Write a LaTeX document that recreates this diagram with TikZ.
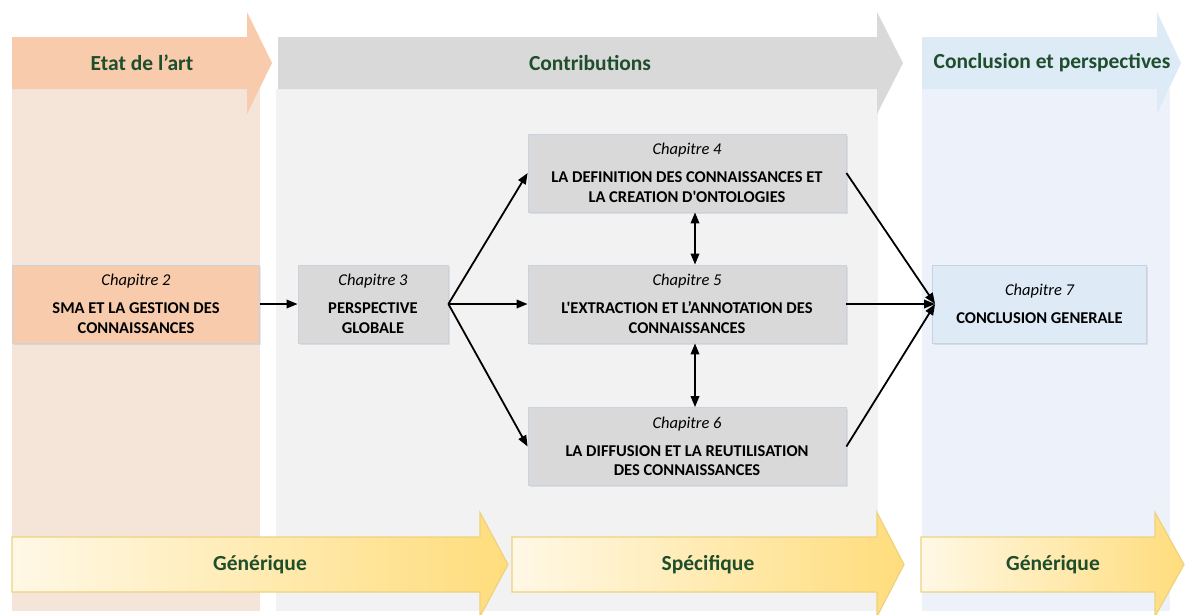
\documentclass[tikz,border=0pt]{standalone}
\usepackage{fontspec}
\setmainfont{Carlito}[Ligatures=TeXOff]
\usetikzlibrary{arrows.meta,shadows}
\definecolor{hdrtext}{HTML}{1F4E2C}
\definecolor{peachA}{HTML}{F8CBAD}
\definecolor{peachBg}{HTML}{F5E5D8}
\definecolor{greyA}{HTML}{D9D9D9}
\definecolor{greyBg}{HTML}{F2F2F2}
\definecolor{blueA}{HTML}{DDEBF7}
\definecolor{blueBg}{HTML}{EDF2FA}
\definecolor{blueBox}{HTML}{DEEAF6}
\definecolor{yelL}{HTML}{FFF8E6}
\definecolor{yelR}{HTML}{FFDD7C}
\definecolor{yelEdge}{HTML}{EFD27E}
\definecolor{boxEdge}{HTML}{C9D3DF}
\newcommand{\myarrowpath}[6]{% x0, xhead, xtip, ymid, body half, head half
  ({#1},{#4-#5}) -- ({#2},{#4-#5}) -- ({#2},{#4-#6}) -- ({#3},{#4}) --
  ({#2},{#4+#6}) -- ({#2},{#4+#5}) -- ({#1},{#4+#5}) -- cycle}
\tikzset{
  hdr/.style={text=hdrtext, font=\fontsize{21.5}{24}\selectfont\bfseries, inner sep=0pt},
  chbox/.style={rectangle, draw=boxEdge, line width=0.8pt, inner sep=0pt,
    minimum height=78pt, align=center, text=black,
    font=\fontsize{16.5}{19.5}\selectfont\bfseries,
    drop shadow={opacity=0.18, shadow xshift=1.5pt, shadow yshift=-1.5pt}},
  conn/.style={line width=1.8pt, -{Triangle[length=11pt,width=8.5pt]}},
  dconn/.style={line width=1.8pt, {Triangle[length=11pt,width=8.5pt]}-{Triangle[length=11pt,width=8.5pt]}},
  yarrow/.style={left color=yelL, right color=yelR, draw=yelEdge, line width=1.2pt}
}
\begin{document}
\begin{tikzpicture}[x=1pt,y=-1pt]
\useasboundingbox (0,0) rectangle (1186,614);
\fill[white] (0,0) rectangle (1186,614);
% column backgrounds
\fill[peachBg] (12,89) rectangle (260,611);
\fill[greyBg] (276,89) rectangle (878,611);
\fill[blueBg] (922,89) rectangle (1170,611);
% top arrows
\fill[peachA] \myarrowpath{12}{247}{272}{63}{26}{51};
\fill[greyA] \myarrowpath{278}{877}{903}{63}{26}{51};
\fill[blueA] \myarrowpath{922}{1157}{1181}{63}{26}{51};
\node[hdr] (h1) at (142,63) {Etat de l’art};
\node[hdr] (h2) at (590,63) {Contributions};
\node[hdr] (h3) at (1052,63) {Conclusion et perspectives};
% bottom arrows
\path[yarrow] \myarrowpath{12}{480}{508}{564.5}{27.5}{52};
\path[yarrow] \myarrowpath{512}{877}{904}{564.5}{27.5}{52};
\path[yarrow] \myarrowpath{921}{1155}{1184}{564.5}{27.5}{52};
\node[hdr] (b1) at (260,564.5) {Générique};
\node[hdr] (b2) at (708,564.5) {Spécifique};
\node[hdr] (b3) at (1053,564.5) {Générique};
% chapter boxes
\node[chbox, fill=peachA, minimum width=247pt] (ch2) at (136,304)
  {{\normalfont\itshape Chapitre 2}\\[8.5pt]SMA ET LA GESTION DES\\CONNAISSANCES};
\node[chbox, fill=greyA, minimum width=150pt] (ch3) at (373,304)
  {{\normalfont\itshape Chapitre 3}\\[8.5pt]PERSPECTIVE\\GLOBALE};
\node[chbox, fill=greyA, minimum width=318pt] (ch4) at (687,173)
  {{\normalfont\itshape Chapitre 4}\\[8.5pt]LA DEFINITION DES CONNAISSANCES ET\\LA CREATION D'ONTOLOGIES};
\node[chbox, fill=greyA, minimum width=318pt] (ch5) at (687,304)
  {{\normalfont\itshape Chapitre 5}\\[8.5pt]L'EXTRACTION ET L’ANNOTATION DES\\CONNAISSANCES};
\node[chbox, fill=greyA, minimum width=318pt] (ch6) at (687,446.5)
  {{\normalfont\itshape Chapitre 6}\\[8.5pt]LA DIFFUSION ET LA REUTILISATION\\DES CONNAISSANCES};
\node[chbox, fill=blueBox, minimum width=214pt] (ch7) at (1039.5,304)
  {{\normalfont\itshape Chapitre 7}\\[8.5pt]CONCLUSION GENERALE};
% connectors
\draw[conn] (ch2.east) -- (ch3.west);
\draw[conn] (ch3.east) -- (ch4.west);
\draw[conn] (ch3.east) -- (ch5.west);
\draw[conn] (ch3.east) -- (ch6.west);
\draw[conn] (ch4.east) -- ([xshift=3pt]ch7.west);
\draw[conn] (ch5.east) -- ([xshift=3pt]ch7.west);
\draw[conn] (ch6.east) -- ([xshift=3pt]ch7.west);
\draw[dconn] ([xshift=8pt]ch4.south) -- ([xshift=8pt]ch5.north);
\draw[dconn] ([xshift=8pt]ch5.south) -- ([xshift=8pt]ch6.north);
\end{tikzpicture}
\end{document}
